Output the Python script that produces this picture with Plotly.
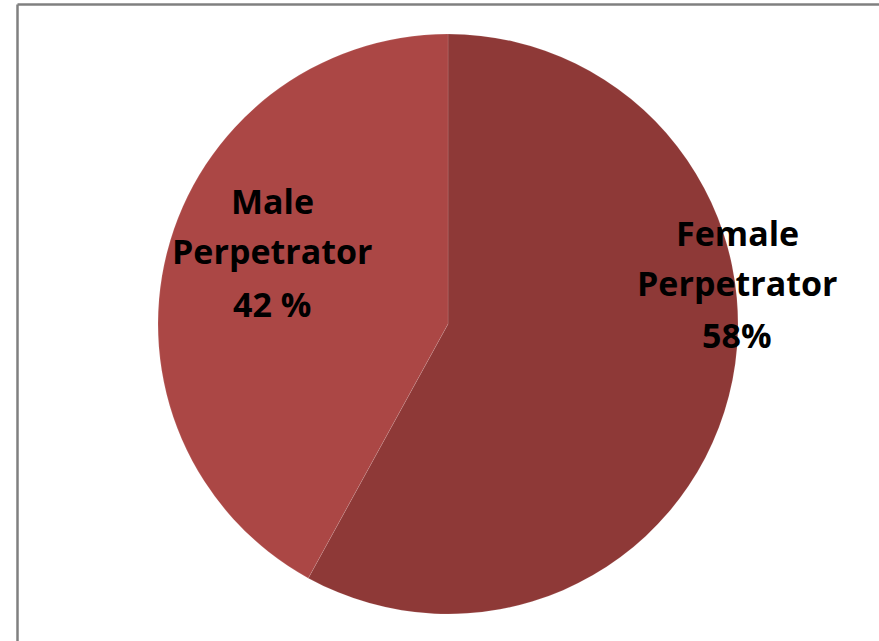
import plotly.graph_objects as go

labels = ["Female Perpetrator", "Male Perpetrator"]
values = [58, 42]
label_lines = [["Female", "Perpetrator", "58%"], ["Male", "Perpetrator", "42 %"]]
colors = ["#8E3937", "#AB4745"]

W, H = 879, 641

fig = go.Figure(go.Pie(
    labels=labels,
    values=values,
    sort=False,
    direction="clockwise",
    rotation=0,
    textinfo="none",
    hoverinfo="label+percent",
    marker=dict(colors=colors, line=dict(color="rgba(255,255,255,0.15)", width=0.8)),
    domain=dict(x=[(448 - 290) / W, (448 + 290) / W], y=[(H - 324 - 290) / H, (H - 324 + 290) / H]),
    showlegend=False,
))

def px(x, y):
    return x / W, 1 - y / H

# label block centres (pixels) and line spacing
ann_pos = [(737, [233, 283, 335]), (272, [201, 251, 304])]
for lines, (x, ys) in zip(label_lines, ann_pos):
    for t, y in zip(lines, ys):
        ax, ay = px(x, y)
        fig.add_annotation(x=ax, y=ay, xref="paper", yref="paper", text=f"<b>{t}</b>",
                           showarrow=False, align="center", xanchor="center", yanchor="middle",
                           font=dict(family="Open Sans, sans-serif", size=34, color="black"))

# chart frame (only top and left edges are inside the picture)
bx, by = 17.5 / W, 1 - 4.5 / H
fig.add_shape(type="line", xref="paper", yref="paper", x0=bx, x1=1.0, y0=by, y1=by,
              line=dict(color="#808080", width=2.5))
fig.add_shape(type="line", xref="paper", yref="paper", x0=bx, x1=bx, y0=0.0, y1=by,
              line=dict(color="#808080", width=2.5))

fig.update_layout(width=W, height=H, margin=dict(l=0, r=0, t=0, b=0),
                  paper_bgcolor="white", plot_bgcolor="white")
fig.write_html("out.html", config={"displayModeBar": False},
               post_script=("document.documentElement.style.overflow='hidden';"
                            "document.documentElement.style.scrollbarWidth='none';"
                            "document.body.style.margin='0';"
                            "document.body.style.overflow='hidden';"
                            "document.body.style.scrollbarWidth='none';"))
